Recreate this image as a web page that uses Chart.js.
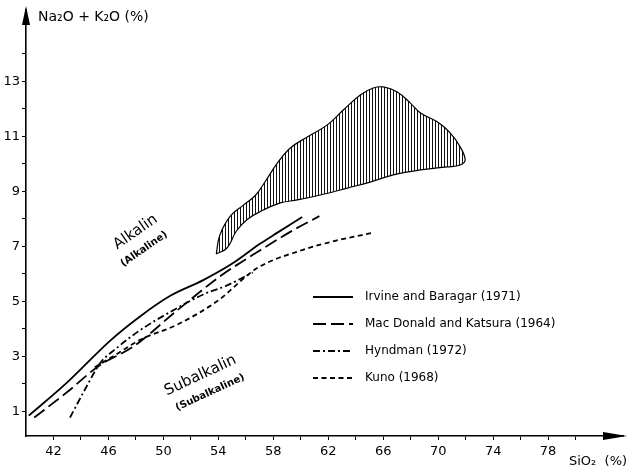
<!DOCTYPE html>
<html>
<head>
<meta charset="utf-8">
<script src="https://cdn.jsdelivr.net/npm/chart.js@4.4.1/dist/chart.umd.min.js"></script>
<style>
  html, body { margin: 0; padding: 0; background: #fff; }
</style>
</head>
<body>
<canvas id="tasChart" width="634" height="475"></canvas>
<script>
"use strict"

// series (SiO2 %, Na2O + K2O %)
const irvineX = [40.2, 43.0, 46.15, 48.3, 50.5, 52.9, 55.1, 57.05, 58.3, 60.1]
const irvineY = [0.84, 2.05, 3.58, 4.45, 5.2, 5.77, 6.4, 7.1, 7.5, 8.07]

const macdonaldX = [40.6, 43.0, 45.3, 47.8, 51.0, 54.1, 57.05, 59.45, 61.35]
const macdonaldY = [0.77, 1.7, 2.65, 3.35, 4.67, 5.9, 6.86, 7.59, 8.1]

const hyndmanX = [43.2, 44.3, 45.4, 46.6, 48.3, 50.7, 52.9, 54.5, 56.5]
const hyndmanY = [0.77, 1.8, 2.75, 3.3, 3.95, 4.67, 5.25, 5.55, 6.05]

const kunoX = [45.0, 46.5, 48.3, 51.0, 53.9, 56.8, 60.0, 62.5, 65.3]
const kunoY = [2.6, 3.05, 3.6, 4.15, 5.0, 6.2, 6.85, 7.2, 7.5]

// hatched field outline, upper edge then lower edge back to the tip
const fieldX = [53.85, 54.1, 54.87, 55.82, 56.69, 57.4, 58.29, 59.24, 60.47, 61.93, 63.09, 64.33, 65.27, 66.0, 67.02, 67.96, 68.69, 69.93, 70.87, 71.6, 71.96,
                71.6, 70.65, 68.69, 66.73, 65.05, 63.38, 61.42, 59.75, 58.51, 57.27, 56.1, 55.3, 54.65, 53.85]
const fieldY = [6.72, 7.4, 8.1, 8.5, 8.85, 9.35, 10.03, 10.58, 10.98, 11.42, 11.96, 12.51, 12.76, 12.8, 12.62, 12.22, 11.86, 11.53, 11.13, 10.62, 10.14,
                9.96, 9.89, 9.78, 9.6, 9.34, 9.12, 8.87, 8.69, 8.58, 8.32, 7.98, 7.55, 6.95, 6.72]

const seriesNames = ['Irvine and Baragar (1971)', 'Mac Donald and Katsura (1964)', 'Hyndman (1972)', 'Kuno (1968)']

const xTicks = [42, 44, 46, 48, 50, 52, 54, 56, 58, 60, 62, 64, 66, 68, 70, 72, 74, 76, 78, 80, 82]
const xLabels = [42, 46, 50, 54, 58, 62, 66, 70, 74, 78]
const yTicks = [1, 2, 3, 4, 5, 6, 7, 8, 9, 10, 11, 12, 13, 14]
const yLabels = [1, 3, 5, 7, 9, 11, 13]

const FONT = "'DejaVu Sans', sans-serif"

function toPoints(xs, ys) {
    return xs.map((x, i) => ({ x: x, y: ys[i] }))
}

// vertical hatching for the field
function hatchPattern() {
    const c = document.createElement('canvas')
    c.width = 3
    c.height = 3
    const g = c.getContext('2d')
    g.fillStyle = '#fff'
    g.fillRect(0, 0, 3, 3)
    g.fillStyle = '#111'
    g.fillRect(0, 0, 1, 3)
    return g.createPattern(c, 'repeat')
}

const lineBase = {
    showLine: true,
    fill: false,
    pointRadius: 0,
    borderColor: '#000',
    borderWidth: 1.8,
    cubicInterpolationMode: 'monotone'
}

// drawing the axis arrows, titles, region names and the legend
const decorations = {
    id: 'decorations',
    afterDraw(chart) {
        const ctx = chart.ctx
        const a = chart.chartArea
        const xs = chart.scales.x
        const ys = chart.scales.y
        ctx.save()
        ctx.fillStyle = '#000'
        ctx.strokeStyle = '#000'

        // arrows
        ctx.beginPath()
        ctx.moveTo(a.left, 6)
        ctx.lineTo(a.left - 4, 25)
        ctx.lineTo(a.left + 4, 25)
        ctx.closePath()
        ctx.fill()
        ctx.beginPath()
        ctx.moveTo(627, a.bottom)
        ctx.lineTo(603, a.bottom - 4)
        ctx.lineTo(603, a.bottom + 4)
        ctx.closePath()
        ctx.fill()

        // axis titles
        ctx.font = '14px ' + FONT
        ctx.textBaseline = 'alphabetic'
        ctx.textAlign = 'left'
        ctx.fillText('Na\u2082O + K\u2082O (%)', 38, 21)
        ctx.font = '13px ' + FONT
        ctx.fillText('SiO\u2082  (%)', 569, 465)

        // region names
        const regions = [
            { text: 'Alkalin', x: 47.97, y: 7.52, size: 15, rot: -35 },
            { text: '(Alkaline)', x: 48.6, y: 6.9, size: 10, rot: -35 },
            { text: 'Subalkalin', x: 52.7, y: 2.3, size: 15, rot: -25 },
            { text: '(Subalkaline)', x: 53.4, y: 1.68, size: 10, rot: -25 }
        ]
        ctx.textAlign = 'center'
        ctx.textBaseline = 'middle'
        regions.forEach(r => {
            ctx.save()
            ctx.translate(xs.getPixelForValue(r.x), ys.getPixelForValue(r.y))
            ctx.rotate(r.rot * Math.PI / 180)
            ctx.font = (r.size < 12 ? 'bold ' : '') + r.size + 'px ' + FONT
            ctx.fillText(r.text, 0, 0)
            ctx.restore()
        })

        // legend
        ctx.textAlign = 'left'
        ctx.font = '12px ' + FONT
        seriesNames.forEach((name, i) => {
            const ds = chart.data.datasets[i]
            const yy = 297 + i * 27
            ctx.save()
            ctx.lineWidth = ds.borderWidth
            ctx.setLineDash(ds.borderDash || [])
            ctx.beginPath()
            ctx.moveTo(313, yy)
            ctx.lineTo(353, yy)
            ctx.stroke()
            ctx.restore()
            ctx.fillText(name, 365, yy)
        })
        ctx.restore()
    }
}

const ctx = document.getElementById('tasChart')

const myChart = new Chart(ctx, {
    type: 'scatter',
    data: {
        datasets: [
            Object.assign({}, lineBase, { label: seriesNames[0], data: toPoints(irvineX, irvineY) }),
            Object.assign({}, lineBase, { label: seriesNames[1], data: toPoints(macdonaldX, macdonaldY), borderDash: [13, 5] }),
            Object.assign({}, lineBase, { label: seriesNames[2], data: toPoints(hyndmanX, hyndmanY), borderDash: [7, 3, 2, 3] }),
            Object.assign({}, lineBase, { label: seriesNames[3], data: toPoints(kunoX, kunoY), borderDash: [5, 3.5] }),
            {
                label: 'field',
                data: toPoints(fieldX, fieldY),
                showLine: true,
                pointRadius: 0,
                borderColor: '#000',
                borderWidth: 1.2,
                tension: 0.4,
                fill: 'shape',
                backgroundColor: hatchPattern()
            }
        ]
    },
    options: {
        responsive: false,
        animation: false,
        layout: { padding: { top: 10, right: 11, left: 0, bottom: 0 } },
        plugins: {
            legend: { display: false },
            tooltip: { enabled: false }
        },
        scales: {
            x: {
                type: 'linear',
                min: 40,
                max: 83.45,
                afterBuildTicks: scale => { scale.ticks = xTicks.map(v => ({ value: v })) },
                afterFit: scale => { scale.height = 39 },
                ticks: {
                    autoSkip: false,
                    maxRotation: 0,
                    padding: 4,
                    color: '#000',
                    font: { family: FONT, size: 13 },
                    callback: v => xLabels.includes(v) ? String(v) : ''
                },
                grid: { drawOnChartArea: false, tickLength: 4, color: '#000', lineWidth: 1 },
                border: { color: '#000', width: 1.6 }
            },
            y: {
                type: 'linear',
                min: 0.1,
                max: 15.6,
                afterBuildTicks: scale => { scale.ticks = yTicks.map(v => ({ value: v })) },
                afterFit: scale => { scale.width = 26 },
                ticks: {
                    autoSkip: false,
                    padding: 2,
                    color: '#000',
                    font: { family: FONT, size: 13 },
                    callback: v => yLabels.includes(v) ? String(v) : ''
                },
                grid: { drawOnChartArea: false, tickLength: 4, color: '#000', lineWidth: 1 },
                border: { color: '#000', width: 1.6 }
            }
        }
    },
    plugins: [decorations]
})
</script>
</body>
</html>
